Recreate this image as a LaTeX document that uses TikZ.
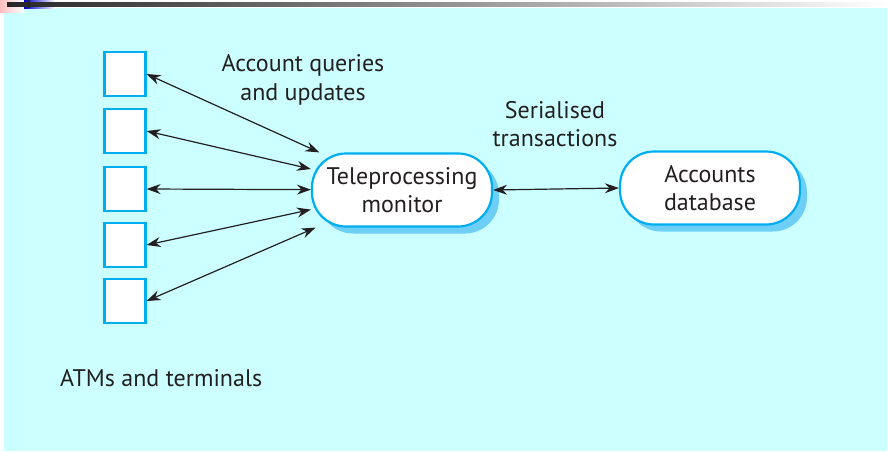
\documentclass[tikz,border=0pt]{standalone}
\usepackage{fontspec}
\setmainfont{PT Sans}
\usetikzlibrary{arrows.meta,shadows}
\definecolor{bgcyan}{HTML}{CCFFFF}
\definecolor{edgeblue}{HTML}{00AEEF}
\definecolor{shadowblue}{HTML}{6ECFF6}
\definecolor{ink}{HTML}{231F20}
\begin{document}
\begin{tikzpicture}[x=1pt,y=1pt,
  termbox/.style={draw=edgeblue, line width=2.2pt, fill=white, minimum width=41pt, minimum height=44pt, inner sep=0pt},
  pill/.style={draw=edgeblue, line width=2.2pt, fill=white, rounded corners=34pt,
    minimum width=180pt, minimum height=73pt, align=center, inner sep=0pt,
    font=\fontsize{24}{28.5}\selectfont, text=ink,
    drop shadow={fill=shadowblue, opacity=1, shadow xshift=7pt, shadow yshift=-7pt}},
  lbl/.style={font=\fontsize{24}{28.5}\selectfont, text=ink, align=center, inner sep=0pt},
  conn/.style={draw=ink, line width=1.2pt, {Stealth[length=14pt,width=10pt]}-{Stealth[length=14pt,width=10pt]}}
]
\useasboundingbox (0,0) rectangle (888,-451);
% background
\fill[bgcyan] (4,-8) rectangle (887,-451);
% top decoration
\shade[left color=red!25, right color=white] (0,0) rectangle (24,-12);
\shade[left color=blue!80!black, right color=white] (24,0) rectangle (55,-8);
\shade[left color=black!85, right color=white] (7,-2) rectangle (888,-6);
\fill[black!85] (27,0) rectangle (30,-8);
% terminals
\node[termbox] (t1) at (125,-74) {};
\node[termbox] (t2) at (125,-131) {};
\node[termbox] (t3) at (125,-189) {};
\node[termbox] (t4) at (125,-245) {};
\node[termbox] (t5) at (125,-301) {};
% monitor and database
\node[pill] (mon) at (402,-190) {Teleprocessing\\monitor};
\node[pill] (db) at (710,-188) {Accounts\\database};
% labels
\node[lbl] (lq) at (303,-80) {Account queries\\and updates};
\node[lbl] (ls) at (555,-124) {Serialised\\transactions};
\node[lbl, anchor=west] (la) at (60,-378) {ATMs and terminals};
% connectors
\draw[conn] (t1.east) -- (mon);
\draw[conn] (t2.east) -- (mon);
\draw[conn] (t3.east) -- (mon);
\draw[conn] (t4.east) -- (mon);
\draw[conn] (t5.east) -- (mon);
\draw[conn] (mon.east) -- (db.west);
\end{tikzpicture}
\end{document}
